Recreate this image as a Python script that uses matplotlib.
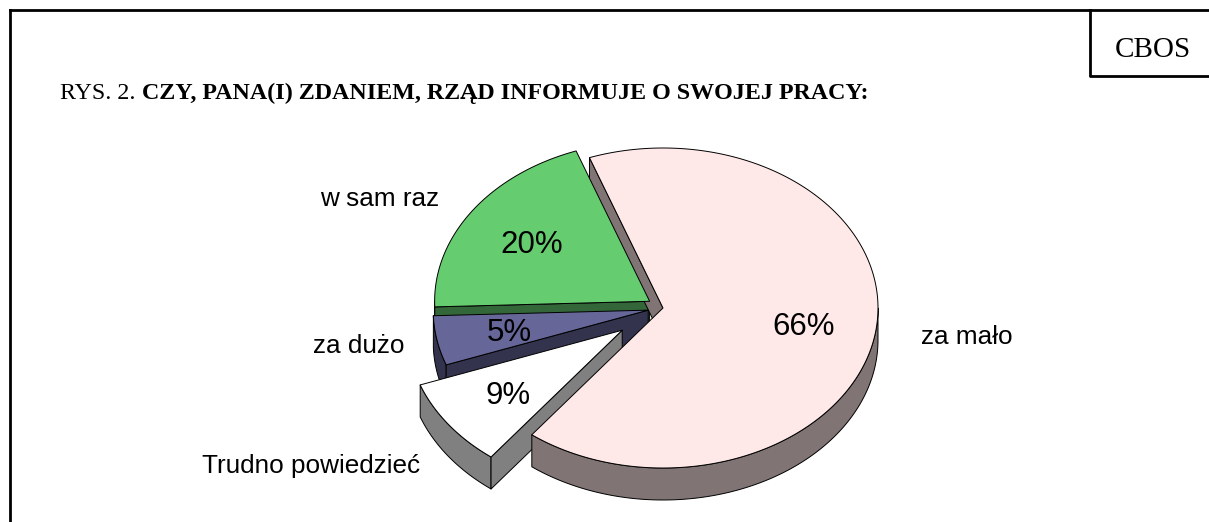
"""RYS. 2 z komunikatu CBOS: wykres kołowy 3D (rozsunięte wycinki)."""

import matplotlib
matplotlib.use("Agg")  # bez okna
import matplotlib.pyplot as plt
import numpy as np
from matplotlib.colors import to_rgb
from matplotlib.patches import Polygon


# ---------------------------------------------------------------------------
# dane
# ---------------------------------------------------------------------------
LABELS = ["w sam raz", "za dużo", "Trudno powiedzieć", "za mało"]
VALUES = [20, 5, 9, 66]
TITLE_PREFIX = "RYS. 2. "
TITLE = "CZY, PANA(I) ZDANIEM, RZĄD INFORMUJE O SWOJEJ PRACY:"
SOURCE = "CBOS"

# ---------------------------------------------------------------------------
# wygląd
# ---------------------------------------------------------------------------
TOP_COLORS = ["#66CC70", "#666699", "#FFFFFF", "#FFE8E8"]
EXPLODE = [0.075, 0.07, 0.235, 0.0]
LABEL_POS = [(380, 206), (359, 353), (311, 473), (967, 344)]

CENTER = (663, 308)      # środek elipsy w pikselach
RX, RY, DEPTH = 215, 160, 32
START = 110              # kąt początkowy, przeciwnie do wskazówek zegara
PCT_R = 0.66

SANS = ["Liberation Sans", "DejaVu Sans"]
SERIF = ["Liberation Serif", "DejaVu Serif"]


def arc(cx, cy, t1, t2, dz=0.0):
    n = max(2, int(abs(t2 - t1) * 2) + 1)
    t = np.radians(np.linspace(t1, t2, n))
    return np.column_stack([cx + RX * np.cos(t), cy - RY * np.sin(t) + dz])


fig = plt.figure(figsize=(12.09, 5.22), dpi=100)
ax = fig.add_axes([0, 0, 1, 1])
ax.set_xlim(0, 1209)
ax.set_ylim(522, 0)
ax.axis("off")

total = float(sum(VALUES))
bounds = START + np.cumsum([0] + VALUES) / total * 360.0

walls = []   # (klucz głębokości, wielokąt, kolor)
tops = []
pct = []
for i, v in enumerate(VALUES):
    t1, t2 = bounds[i], bounds[i + 1]
    mid = np.radians((t1 + t2) / 2)
    cx = CENTER[0] + EXPLODE[i] * RX * np.cos(mid)
    cy = CENTER[1] - EXPLODE[i] * RY * np.sin(mid)
    side = tuple(np.array(to_rgb(TOP_COLORS[i])) * 0.5)

    # ściana zewnętrzna - tylko przednia połówka
    for k in range(-1, 3):
        lo = max(t1, 180 + 360 * k)
        hi = min(t2, 360 + 360 * k)
        if hi > lo:
            edge = arc(cx, cy, lo, hi)
            poly = np.vstack([edge, arc(cx, cy, hi, lo, DEPTH)])
            walls.append((edge[:, 1].max(), poly, side))

    # ściany promieniowe widoczne od przodu
    for t, visible in ((t1, np.cos(np.radians(t1)) > 0),
                       (t2, np.cos(np.radians(t2)) < 0)):
        if visible:
            px = cx + RX * np.cos(np.radians(t))
            py = cy - RY * np.sin(np.radians(t))
            poly = np.array([[cx, cy], [px, py], [px, py + DEPTH],
                             [cx, cy + DEPTH]])
            walls.append((max(cy, py), poly, side))

    tops.append((np.vstack([[cx, cy], arc(cx, cy, t1, t2)]), TOP_COLORS[i]))
    pct.append((cx + PCT_R * RX * np.cos(mid),
                cy - PCT_R * RY * np.sin(mid), f"{v}%"))

for _, poly, color in sorted(walls, key=lambda w: w[0]):
    ax.add_patch(Polygon(poly, closed=True, facecolor=color,
                         edgecolor="black", linewidth=0.7, joinstyle="round"))
for poly, color in tops:
    ax.add_patch(Polygon(poly, closed=True, facecolor=color,
                         edgecolor="black", linewidth=0.7, joinstyle="round"))

for x, y, s in pct:
    ax.text(x, y + 11, s, ha="center", va="baseline", fontsize=22.5,
            family=SANS, color="black")

for (x, y), s in zip(LABEL_POS, LABELS):
    ax.text(x, y, s, ha="center", va="baseline", fontsize=18.8,
            family=SANS, color="black")

# tytuł: "RYS. 2." zwykłą czcionką, reszta pogrubiona
t1 = ax.text(60, 99, TITLE_PREFIX, ha="left", va="baseline", fontsize=17.25,
             family=SERIF)
fig.canvas.draw()
x1 = t1.get_window_extent(fig.canvas.get_renderer()).x1
x1 = ax.transData.inverted().transform((x1, 0))[0]
ax.text(x1, 99, TITLE, ha="left", va="baseline", fontsize=17.25,
        family=SERIF, fontweight="bold")

# ramka i pole CBOS
frame = dict(color="black", linewidth=2, solid_capstyle="projecting",
             clip_on=False)
ax.plot([10, 1209], [10, 10], **frame)
ax.plot([10, 10], [10, 522], **frame)
ax.plot([1090, 1090, 1209], [10, 76, 76], **frame)
ax.text(1153, 57, SOURCE, ha="center", va="baseline", fontsize=21,
        family=SERIF)

fig.savefig("out.png", dpi=100)
